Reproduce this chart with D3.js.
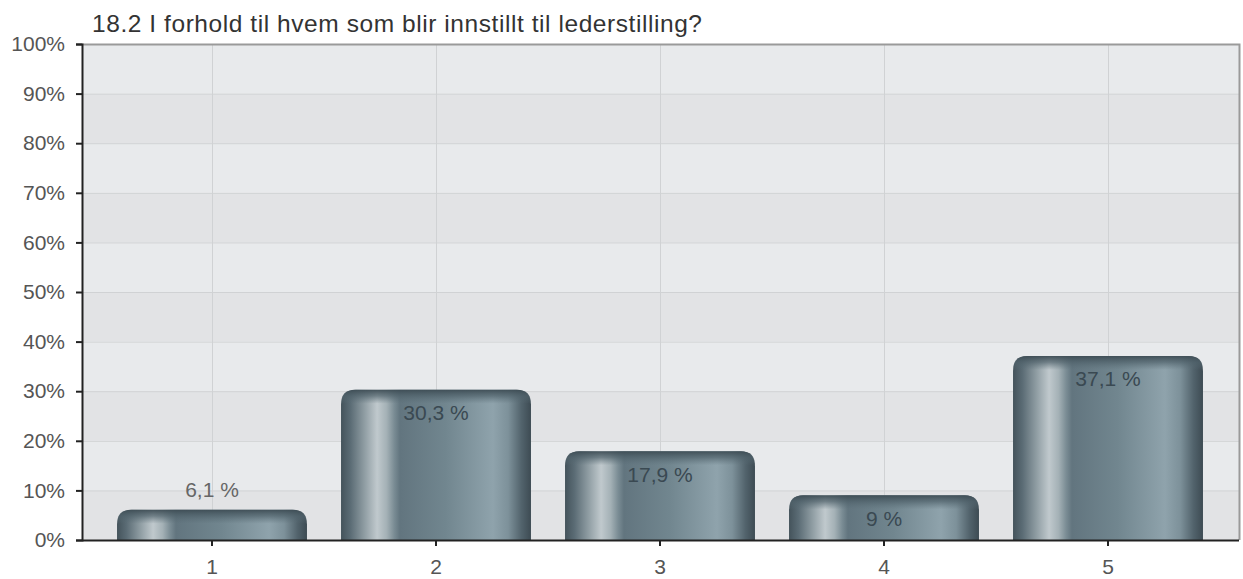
<!DOCTYPE html>
<html><head><meta charset="utf-8">
<script src="https://cdn.jsdelivr.net/npm/d3@7"></script>
<style>body{margin:0;background:#fff;} text{font-family:"Liberation Sans",Arial,sans-serif;}</style>
</head><body><svg id="c" width="1243" height="579"></svg>
<script>
const categories = ["1","2","3","4","5"];
const values = [6.1, 30.3, 17.9, 9, 37.1];
const valueLabels = ["6,1 %","30,3 %","17,9 %","9 %","37,1 %"];
const yTicks = [0,10,20,30,40,50,60,70,80,90,100];
const title = "18.2 I forhold til hvem som blir innstillt til lederstilling?";

const svg = d3.select("#c");
const plot = {left:82, right:1239, top:44, bottom:540};
const x = d3.scaleBand().domain(categories).range([100,1220]).paddingInner(0.152).paddingOuter(0.076);
const y = d3.scaleLinear().domain([0,100]).range([plot.bottom, plot.top]);

const defs = svg.append("defs");
const g1 = defs.append("linearGradient").attr("id","body").attr("x1","0").attr("x2","1").attr("y1","0").attr("y2","0");
[[0,"#44535b"],[0.05,"#5b6c75"],[0.12,"#8d9ba1"],[0.19,"#c0c9cd"],[0.24,"#a4b1b6"],[0.28,"#7a8c94"],[0.31,"#62757f"],[0.55,"#71868f"],[0.8,"#8fa3ac"],[0.88,"#7d919a"],[0.95,"#52636c"],[1,"#3d4b53"]]
  .forEach(s=>g1.append("stop").attr("offset",s[0]).attr("stop-color",s[1]));
const g2 = defs.append("linearGradient").attr("id","cap").attr("x1","0").attr("x2","0").attr("y1","0").attr("y2","1");
[[0,"#3d4c54",0.95],[0.45,"#4f616a",0.7],[1,"#5a6d76",0]].forEach(s=>g2.append("stop").attr("offset",s[0]).attr("stop-color",s[1]).attr("stop-opacity",s[2]));

// background stripes
const bands = d3.range(10);
svg.append("g").selectAll("rect").data(bands).join("rect")
  .attr("x",plot.left).attr("width",plot.right-plot.left)
  .attr("y",d=>y((d+1)*10)).attr("height",d=>y(d*10)-y((d+1)*10))
  .attr("fill",d=>d%2===1?"#e8eaec":"#e2e3e5");

// grid
svg.append("g").selectAll("line").data(yTicks.slice(1,-1)).join("line")
  .attr("x1",plot.left).attr("x2",plot.right).attr("y1",d=>y(d)+0.5).attr("y2",d=>y(d)+0.5)
  .attr("stroke","#d0d2d4").attr("stroke-width",1);
svg.append("g").selectAll("line").data(categories).join("line")
  .attr("x1",d=>Math.round(x(d)+x.bandwidth()/2)+0.5).attr("x2",d=>Math.round(x(d)+x.bandwidth()/2)+0.5)
  .attr("y1",plot.top).attr("y2",plot.bottom).attr("stroke","#d0d2d4");

// border top/right
svg.append("path").attr("d",`M${plot.left},${plot.top+0.5}H${plot.right+0.5}V${plot.bottom}`)
  .attr("fill","none").attr("stroke","#9a9a9a").attr("stroke-width",2);

// bars
const r = 15;
function barPath(x0,w,yt,yb){
  const rr = Math.min(r, (yb-yt));
  return `M${x0},${yb}V${yt+rr}Q${x0},${yt} ${x0+rr},${yt}H${x0+w-rr}Q${x0+w},${yt} ${x0+w},${yt+rr}V${yb}Z`;
}
const bars = svg.append("g");
categories.forEach((c,i)=>{
  const x0 = x(c), w = x.bandwidth(), yt = y(values[i]), yb = y(0);
  bars.append("path").attr("d",barPath(x0,w,yt,yb)).attr("fill","url(#body)");
  const capH = Math.min(14, yb-yt);
  bars.append("path").attr("d",barPath(x0,w,yt,yt+capH)).attr("fill","url(#cap)");
});

// value labels
const inside = i => (y(0)-y(values[i]))>40;
svg.append("g").selectAll("text").data(categories).join("text")
  .attr("x",d=>x(d)+x.bandwidth()/2)
  .attr("y",(d,i)=> inside(i) ? y(values[i])+30.5 : y(values[i])-12.5)
  .attr("text-anchor","middle").attr("font-size",21)
  .attr("fill",(d,i)=>inside(i) ? "#3a4952" : "#666")
  .text((d,i)=>valueLabels[i]);

// axes
const yAxis = svg.append("g").attr("transform",`translate(${plot.left},0)`)
  .call(d3.axisLeft(y).tickValues(yTicks).tickFormat(d=>d+"%").tickSize(6).tickPadding(11));
yAxis.select(".domain").attr("stroke","#222").attr("stroke-width",2);
yAxis.selectAll(".tick line").attr("stroke","#222").attr("stroke-width",2);
yAxis.selectAll("text").attr("font-size",21).attr("fill","#555").attr("font-family","Liberation Sans, Arial, sans-serif");

const xAxis = svg.append("g").attr("transform",`translate(0,${plot.bottom})`)
  .call(d3.axisBottom(x).tickSize(6).tickPadding(13).tickSizeOuter(0));
xAxis.select(".domain").attr("d",`M${plot.left},0.5H${plot.right}`).attr("stroke","#222").attr("stroke-width",2);
xAxis.selectAll(".tick line").attr("stroke","#222").attr("stroke-width",2);
xAxis.selectAll("text").attr("font-size",21).attr("fill","#555").attr("font-family","Liberation Sans, Arial, sans-serif");

svg.append("text").attr("x",92).attr("y",32).attr("font-size",24.5)
  .attr("textLength",610).attr("lengthAdjust","spacing").attr("fill","#333").text(title);
</script></body></html>
